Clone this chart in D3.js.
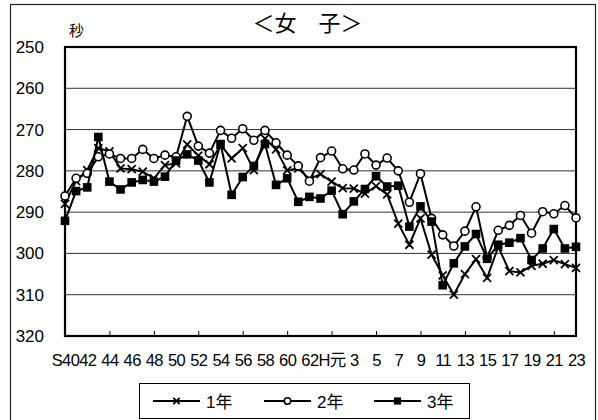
<!DOCTYPE html>
<html><head><meta charset="utf-8">
<script src="https://cdn.jsdelivr.net/npm/d3@7"></script>
<style>
html,body{margin:0;padding:0;background:#fff;}
svg{display:block;}
text{font-family:"Liberation Sans",Arial,"Noto Sans CJK JP",sans-serif;fill:#000;}
</style></head>
<body>
<svg id="chart" width="598" height="420"></svg>
<script>
// ---- data ----
const categories = [
  "S40","S41","S42","S43","S44","S45","S46","S47","S48","S49","S50","S51",
  "S52","S53","S54","S55","S56","S57","S58","S59","S60","S61","S62","S63",
  "H元","H2","H3","H4","H5","H6","H7","H8","H9","H10","H11","H12","H13","H14",
  "H15","H16","H17","H18","H19","H20","H21","H22","H23"
];
const tickLabels = ["S40","42","44","46","48","50","52","54","56","58","60","62",
  "H元","3","5","7","9","11","13","15","17","19","21","23"];
const yTicks = [250,260,270,280,290,300,310,320];
const seriesNames = ["1年","2年","3年"];
const grade1 = [288.0,282.5,279.8,274.5,275.3,279.4,279.6,280.2,281.8,278.6,278.2,273.6,
  276.3,278.4,273.7,277.0,274.5,279.8,272.2,274.8,279.9,279.4,282.0,280.8,
  282.6,284.2,284.3,285.5,283.7,285.7,292.8,297.9,291.5,300.3,305.3,310.0,305.0,301.4,
  305.9,298.4,304.3,304.6,303.0,302.5,301.6,302.6,303.5];
const grade2 = [286.1,281.8,280.6,276.6,275.9,277.0,277.0,274.8,277.0,276.2,276.6,266.8,
  274.0,275.7,270.2,272.1,269.8,272.6,270.2,273.2,276.2,278.8,282.5,276.8,
  275.2,279.5,279.8,275.9,278.6,276.9,280.0,287.6,280.7,291.5,295.5,298.2,294.6,288.7,
  301.0,294.4,293.2,290.8,295.1,289.9,290.4,288.4,291.4];
const grade3 = [292.1,284.9,284.0,271.8,282.6,284.5,282.8,282.2,282.6,281.4,277.5,276.0,
  277.5,282.8,273.5,285.8,281.5,278.8,273.5,283.4,281.8,287.5,286.3,286.7,
  284.8,290.5,287.4,284.4,281.3,283.8,283.6,293.5,288.6,292.3,307.7,302.4,298.3,295.3,
  301.3,297.9,297.4,296.3,301.6,298.8,294.1,298.8,298.4];
const titleText = "＜女　子＞";
const unitText = "秒";

// ---- drawing ----
const svg = d3.select("#chart");
const L = 65, R = 576, T = 47, B = 336;

// outer frame
svg.append("rect").attr("x",10.5).attr("y",4.5).attr("width",585).attr("height",430)
  .attr("fill","none").attr("stroke","#222").attr("stroke-width",1.2);

const x = d3.scalePoint().domain(categories).range([L,R]).padding(0);
const y = d3.scaleLinear().domain([250,320]).range([T,B]);

// grid lines
svg.append("g").selectAll("line").data(yTicks.slice(1,-1)).join("line")
  .attr("x1",L).attr("x2",R).attr("y1",d=>y(d)).attr("y2",d=>y(d))
  .attr("stroke","#333").attr("stroke-width",1);

// y axis labels
const yAxis = svg.append("g").attr("transform",`translate(${L},0)`)
  .call(d3.axisLeft(y).tickValues(yTicks).tickSize(0).tickPadding(21).tickFormat(d3.format("d")));
yAxis.select(".domain").remove();
yAxis.selectAll("text").attr("font-size",17).attr("fill","#000")
  .style("font-family",'"Liberation Sans",Arial,sans-serif');

// x axis tick marks (inward, every 4th category)
const tickCats = categories.filter((d,i)=>i%4===0);
const xTicksG = svg.append("g").attr("transform",`translate(0,${B})`)
  .call(d3.axisBottom(x).tickValues(tickCats).tickSize(-5).tickFormat(""));
xTicksG.select(".domain").remove();
xTicksG.selectAll("line").attr("stroke","#000").attr("stroke-width",1);

// x axis labels (every 2nd category)
const labelCats = categories.filter((d,i)=>i%2===0);
const labelMap = new Map(labelCats.map((c,i)=>[c,tickLabels[i]]));
const xLab = svg.append("g").attr("transform",`translate(0,${B})`)
  .call(d3.axisBottom(x).tickValues(labelCats).tickSize(0).tickPadding(18).tickFormat(d=>labelMap.get(d)));
xLab.select(".domain").remove();
xLab.selectAll("text").attr("font-size",16.5).attr("fill","#000")
  .style("letter-spacing","-0.6px")
  .style("font-family",'"Liberation Sans",Arial,"Noto Sans CJK JP",sans-serif');

// plot border
svg.append("rect").attr("x",L).attr("y",T).attr("width",R-L).attr("height",B-T)
  .attr("fill","none").attr("stroke","#000").attr("stroke-width",2.2);

// series
const series = [
  {name:seriesNames[0], values:grade1, marker:"cross"},
  {name:seriesNames[1], values:grade2, marker:"circle"},
  {name:seriesNames[2], values:grade3, marker:"square"}
];
const line = d3.line().x((d,i)=>x(categories[i])).y(d=>y(d));

function drawMarker(g, type, cx, cy, s){
  if(type==="cross"){
    g.append("path").attr("d",`M${cx-s},${cy-s}L${cx+s},${cy+s}M${cx-s},${cy+s}L${cx+s},${cy-s}`)
      .attr("stroke","#000").attr("stroke-width",1.8).attr("fill","none");
  } else if(type==="circle"){
    g.append("circle").attr("cx",cx).attr("cy",cy).attr("r",s)
      .attr("fill","#fff").attr("stroke","#000").attr("stroke-width",1.6);
  } else {
    g.append("rect").attr("x",cx-s).attr("y",cy-s).attr("width",2*s).attr("height",2*s)
      .attr("fill","#000");
  }
}
const sizes = {cross:4, circle:4, square:4.3};
series.forEach(s=>{
  const g = svg.append("g");
  g.append("path").datum(s.values).attr("d",line)
    .attr("fill","none").attr("stroke","#000").attr("stroke-width",2);
  s.values.forEach((v,i)=>drawMarker(g,s.marker,x(categories[i]),y(v),sizes[s.marker]));
});

// title and unit
svg.append("text").attr("x",307.5).attr("y",31).attr("text-anchor","middle")
  .attr("font-size",22).style("font-family",'"Noto Sans CJK JP",sans-serif').text(titleText);
svg.append("text").attr("x",76.5).attr("y",36).attr("text-anchor","middle")
  .attr("font-size",15).style("font-family",'"Noto Sans CJK JP",sans-serif').text(unitText);

// legend
const lg = svg.append("g");
lg.append("rect").attr("x",139.5).attr("y",383.5).attr("width",330).attr("height",35)
  .attr("fill","#fff").attr("stroke","#000").attr("stroke-width",1);
const legX = [153, 264, 374];
const legendSizes = {cross:3.2, circle:3.2, square:3.6};
series.forEach((s,i)=>{
  const lx = legX[i], ly = 401;
  lg.append("line").attr("x1",lx).attr("x2",lx+47).attr("y1",ly).attr("y2",ly)
    .attr("stroke","#000").attr("stroke-width",2);
  drawMarker(lg,s.marker,lx+23.5,ly,legendSizes[s.marker]);
  lg.append("text").attr("x",lx+53).attr("y",ly+6.5).attr("font-size",17)
    .style("font-family",'"Liberation Sans",Arial,"Noto Sans CJK JP",sans-serif').text(s.name);
});
</script>
</body></html>
